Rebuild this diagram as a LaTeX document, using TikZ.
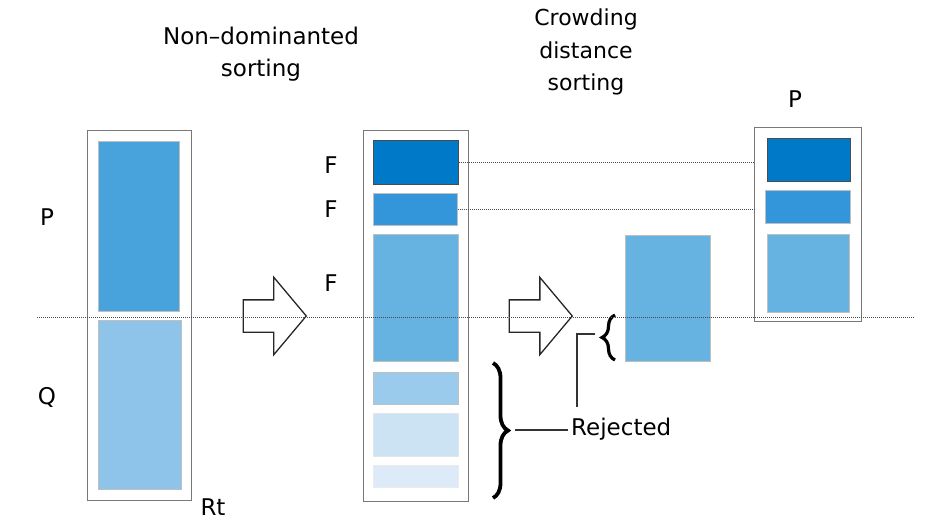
\documentclass[tikz,border=0pt]{standalone}
\usepackage{fontspec}
\setmainfont{DejaVu Sans}
\usepackage{tikz}
\usetikzlibrary{shapes,arrows}
\usetikzlibrary{calc}
\usetikzlibrary{decorations.pathreplacing}
\definecolor{bA}{RGB}{0,121,201}
\definecolor{bB}{RGB}{51,150,218}
\definecolor{bP}{RGB}{72,162,220}
\definecolor{bC}{RGB}{102,178,224}
\definecolor{bQ}{RGB}{142,196,233}
\definecolor{bD}{RGB}{154,202,236}
\definecolor{bE}{RGB}{204,227,244}
\definecolor{bF}{RGB}{221,235,248}
\definecolor{edge}{RGB}{120,120,120}
\tikzstyle{frame} = [draw=edge, line width=1.3pt, anchor=north west, inner sep=0pt]
\tikzstyle{blk} = [draw=black!25, line width=0.8pt, anchor=north west, inner sep=0pt]
\tikzstyle{sortarrow} = [draw=black!85, fill=white, line width=1.3pt, single arrow, single arrow head extend=22.5pt, single arrow tip angle=100, inner sep=15.5pt, minimum height=63pt]
\tikzstyle{dots} = [draw=black!70, line width=1pt, dash pattern=on 1pt off 1pt]
\tikzstyle{rline} = [draw=black!80, line width=1.2pt]
\tikzstyle{curly} = [draw, decorate, line width=3.8pt]

\begin{document}
\begin{tikzpicture}[x=1pt, y=-1pt, font=\fontsize{23}{32}\selectfont]
 \useasboundingbox (0,0) rectangle (939,528);
 \node[align=center] (NDS) at (261,54) {Non--dominanted\\sorting};
 \node[align=center, font=\fontsize{22}{32.5}\selectfont] (CDS) at (586,52) {Crowding\\distance\\sorting};
 % union of parents and offspring
 \node[frame, minimum width=104pt, minimum height=370pt] (Rt) at (87,130) {};
 \node[blk, fill=bP, minimum width=81pt, minimum height=170pt] (Pold) at (98,141) {};
 \node[blk, fill=bQ, minimum width=83pt, minimum height=169pt] (Qold) at (98,320) {};
 \node (lblP) at (47,217) {P};
 \node (lblQ) at (47,397) {Q};
 \node (lblRt) at (213,507) {Rt};
 \node[sortarrow] (sortA) at (268,316) {};
 % fronts
 \node[frame, minimum width=105pt, minimum height=371pt] (Fronts) at (363,130) {};
 \node[blk, draw=black!70, fill=bA, minimum width=85pt, minimum height=44pt] (F1) at (373,140) {};
 \node[blk, fill=bB, minimum width=84pt, minimum height=32pt] (F2) at (373,193) {};
 \node[blk, fill=bC, minimum width=85pt, minimum height=127pt] (F3) at (373,234) {};
 \node[blk, fill=bD, minimum width=85pt, minimum height=32pt] (F4) at (373,372) {};
 \node[blk, draw=black!10, fill=bE, minimum width=85pt, minimum height=43pt] (F5) at (373,413) {};
 \node[blk, draw=black!8, fill=bF, minimum width=85pt, minimum height=22pt] (F6) at (373,465) {};
 \node (lblF1) at (331,165) {F};
 \node (lblF2) at (331,209) {F};
 \node (lblF3) at (331,283) {F};
 \node[sortarrow] (sortB) at (534,316) {};
 \node[blk, fill=bC, minimum width=85pt, minimum height=126pt] (F3s) at (625,235) {};
 % new population
 \node[frame, minimum width=107pt, minimum height=194pt] (Pnew) at (754,127) {};
 \node[blk, draw=black!70, fill=bA, minimum width=83pt, minimum height=43pt] (R1) at (767,138) {};
 \node[blk, fill=bB, minimum width=85pt, minimum height=33pt] (R2) at (765,190) {};
 \node[blk, fill=bC, minimum width=82pt, minimum height=78pt] (R3) at (767,234) {};
 \node (lblPnew) at (795,99) {P};
 \path [dots] (F1.east) -- (F1.east -| Pnew.west);
 \path [dots] (F2.east) -- (F2.east -| Pnew.west);
 % rejected
 \node[anchor=base west, inner sep=3pt] (Rej) at (568,435) {Rejected};
 \coordinate (bigtop) at (493,363);
 \coordinate (bigbot) at (493,498);
 \coordinate (bigtip) at (515,430);
 \coordinate (smalltop) at (615,315);
 \coordinate (smallbot) at (615,360);
 \coordinate (smalltip) at (595,334);
 \coordinate (bend) at (577,334);
 \coordinate (drop) at (577,407);
 \path [curly, decoration={brace, amplitude=15pt}] (bigtop) -- (bigbot);
 \path [curly, line width=3.2pt, decoration={brace, amplitude=13pt}] (smallbot) -- (smalltop);
 \path [rline] (bigtip) -- (bigtip -| Rej.west);
 \path [rline] (smalltip) -- (bend) -- (drop);
 \coordinate (cutL) at (37,317);
 \coordinate (cutR) at (915,317);
 \path [dots] (cutL) -- (cutR);
\end{tikzpicture}
\end{document}
